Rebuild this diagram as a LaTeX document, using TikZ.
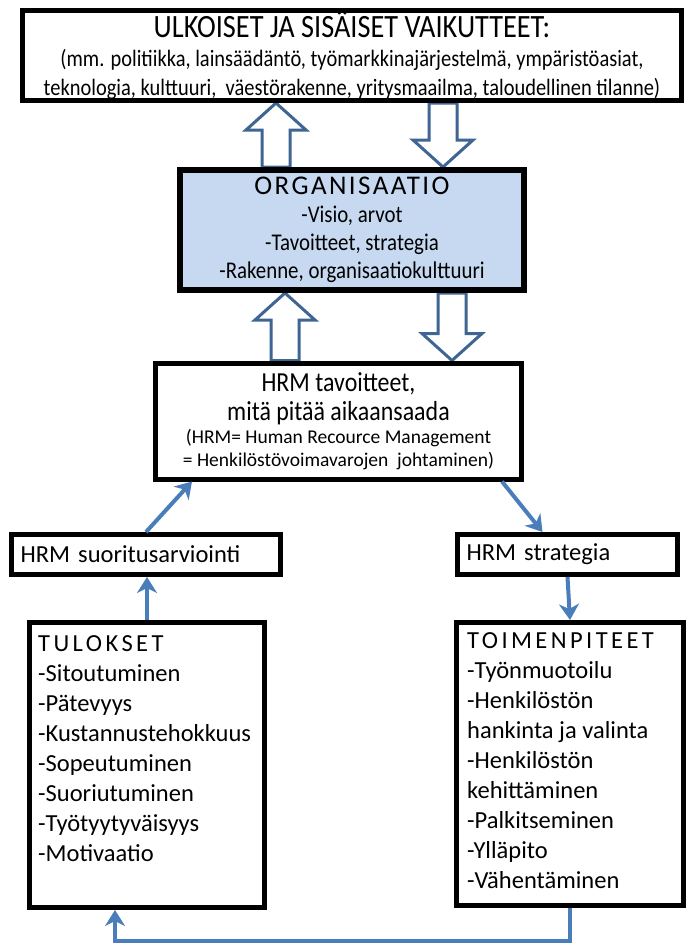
\documentclass[tikz,border=0pt]{standalone}
\usepackage{fontspec}
\setmainfont{Carlito}
\newfontfamily\narrowfont{Carlito}[FakeStretch=0.87]
\newfontfamily\spacedfont{Carlito}[LetterSpace=14]
\newfontfamily\orgfont{Carlito}[LetterSpace=9]
\usetikzlibrary{arrows.meta, positioning, calc}
\definecolor{orgblue}{HTML}{C6D9F1}
\definecolor{linkblue}{HTML}{4A7EBB}
\definecolor{hollowblue}{HTML}{3F6592}
\pgfdeclarelayer{background}
\pgfsetlayers{background,main}
\newcommand\hrmsmall{\normalfont\fontsize{19.5}{22}\selectfont}

% hollow block arrow from tail #1 to tip #2 (vertical)
\newcommand\blockarrow[2]{%
  \draw[hollow] let \p1=(#1), \p2=(#2), \n1={sign(\y2-\y1)} in
    (\x1-14pt,\y1) -- (\x1-14pt,\y2-\n1*27pt) -- (\x1-30pt,\y2-\n1*27pt)
    -- (\x1,\y2) -- (\x1+30pt,\y2-\n1*27pt) -- (\x1+14pt,\y2-\n1*27pt)
    -- (\x1+14pt,\y1) -- cycle;}

\begin{document}
\begin{tikzpicture}[x=1pt, y=-1pt,
  box/.style={draw=black, line width=5pt, fill=white, inner sep=0pt},
  hollow/.style={draw=hollowblue, fill=white, line width=3pt, line join=miter},
  link/.style={draw=linkblue, line width=4pt, line join=miter,
    -{Stealth[length=16pt, width=20pt, inset=5pt]}}]
\useasboundingbox (0,0) rectangle (686,946);
% top: influences
\node[box, minimum width=659, minimum height=90, align=center,
  font=\narrowfont\fontsize{23.5}{29}\selectfont]
  (vaik) at (352,55.5) {\fontsize{32.5}{30}\selectfont ULKOISET JA SISÄISET VAIKUTTEET:\\
  (mm. politiikka, lainsäädäntö, työmarkkinajärjestelmä, ympäristöasiat,\\
  teknologia, kulttuuri, \ väestörakenne, yritysmaailma, taloudellinen tilanne)};
% organisation
\node[box, line width=6pt, fill=orgblue, minimum width=344, minimum height=120, align=center,
  font=\narrowfont\fontsize{24}{28}\selectfont]
  (org) at (352,230) {\orgfont\fontsize{27}{28}\selectfont ORGANISAATIO\\
  -Visio, arvot\\
  -Tavoitteet, strategia\\
  -Rakenne, organisaatiokulttuuri};
% HRM goals
\node[box, minimum width=366, minimum height=116, align=center,
  font=\narrowfont\fontsize{27.5}{29}\selectfont]
  (hrm) at (338.5,421) {HRM tavoitteet,\\
  mitä pitää aikaansaada\\[-6pt]
  \hrmsmall (HRM= Human Recource Management\\[-6pt]
  \hrmsmall = Henkilöstövoimavarojen \ johtaminen)};
% middle row
\node[box, minimum height=40, inner xsep=9pt, text width=251pt, align=left,
  font=\fontsize{24.5}{30}\selectfont] (suor) at (146,554.5) {HRM suoritusarviointi};
\node[box, minimum height=40, inner xsep=9pt, text width=202pt, align=left,
  font=\fontsize{24.5}{30}\selectfont] (strat) at (567.5,554.5) {HRM strategia};
% bottom row
\node[box, minimum width=235, minimum height=285, anchor=north west] (tulos) at (27,620) {};
\node[anchor=north west, inner sep=0pt, align=left, font=\fontsize{24.5}{30}\selectfont]
  (tulostxt) at ($(tulos.north west)+(11,15)$) {\spacedfont TULOKSET\\
  -Sitoutuminen\\-Pätevyys\\-Kustannustehokkuus\\-Sopeutuminen\\
  -Suoriutuminen\\-Työtyytyväisyys\\-Motivaatio};
\node[box, minimum width=227, minimum height=283, anchor=north west] (toim) at (454,620) {};
\node[anchor=north west, inner sep=0pt, align=left, font=\fontsize{24.5}{30}\selectfont]
  (toimtxt) at ($(toim.north west)+(13,12)$) {\spacedfont TOIMENPITEET\\
  -Työnmuotoilu\\-Henkilöstön\\hankinta ja valinta\\-Henkilöstön\\kehittäminen\\
  -Palkitseminen\\-Ylläpito\\-Vähentäminen};
% hollow arrows
\coordinate (up1) at ($(org.north)+(-76,0)$);
\coordinate (dn1) at ($(vaik.south)+(91,0)$);
\coordinate (up2) at ($(org.south)+(-67,0)$);
\coordinate (dn2) at ($(org.south)+(100,0)$);
\begin{pgfonlayer}{background}
\fill[white] (0,0) rectangle (686,946);
\blockarrow{up1}{up1 |- vaik.south}
\blockarrow{dn1}{dn1 |- org.north}
\blockarrow{up2 |- hrm.north}{up2}
\blockarrow{dn2}{dn2 |- hrm.north}
\end{pgfonlayer}
% connectors
\draw[link] (tulos.north) -- (tulos.north |- suor.south);
\draw[link] (suor.north) -- ($(hrm.south west)+(39,0)$);
\draw[link] ($(hrm.south east)+(-22,0)$) -- ($(strat.north)+(-25,0)$);
\draw[link] (strat.south) -- (toim.north);
\draw[link] (toim.south) -- ++(0,33) -| ($(tulos.south)+(-32,0)$);
\end{tikzpicture}
\end{document}
